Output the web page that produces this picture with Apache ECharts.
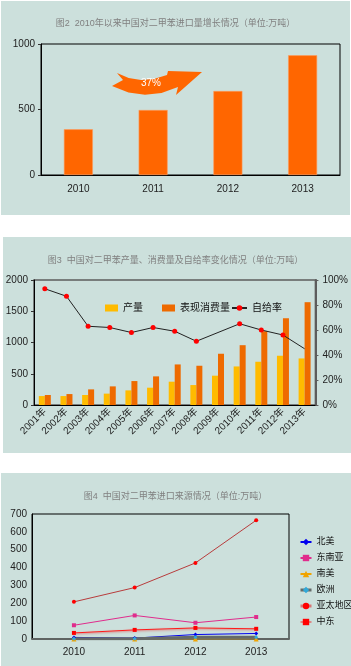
<!DOCTYPE html>
<html>

<head>
    <meta charset="utf-8">
    <script src="https://cdn.jsdelivr.net/npm/echarts@6/dist/echarts.min.js"></script>
</head>

<body>
    <div id="root"></div>
</body>
<style>
    body {
        margin: 0;
        background: #fff;
    }

    #root {
        width: 351px;
        height: 666px;
    }
</style>
<script>
    // 图2 进口量
    const importYears = ['2010', '2011', '2012', '2013']
    const importVolume = [349, 496, 641, 914]

    // 图3 产量/消费量/自给率
    const years = ['2001年', '2002年', '2003年', '2004年', '2005年', '2006年', '2007年',
        '2008年', '2009年', '2010年', '2011年', '2012年', '2013年']
    const output = [143, 143, 160, 182, 234, 277, 373, 319, 469, 617, 692, 788, 745]
    const consumption = [160, 175, 250, 298, 383, 458, 649, 628, 820, 957, 1180, 1388, 1645]
    const selfRate = [93, 87, 63, 62, 58, 62, 59, 51, null, 65, 60, 56, 45]

    // 图4 进口来源
    const srcYears = [2010, 2011, 2012, 2013]
    const northAmerica = [9, 5, 25, 31]
    const southeastAsia = [77, 132, 91, 123]
    const southAmerica = [0, 0, 0, 0]
    const europe = [2, 1, 10, 10]
    const asiaPacific = [208, 288, 426, 665]
    const middleEast = [34, 51, 62, 57]

    const font = "'Liberation Sans', 'Noto Sans CJK SC', sans-serif"
    const bg = '#cce0dc'
    const titleStyle = { fontSize: 9, color: '#808080', fontWeight: 'normal', fontFamily: font }
    const labelStyle = { fontSize: 10, color: '#222', fontFamily: font }
    const plain = v => String(v)

    const chart = echarts.init(document.getElementById('root'))

    const pair = arr => srcYears.map((y, i) => [y, arr[i]])

    function srcLine(name, data, color, symbol, size, extra) {
        return Object.assign({
            name,
            type: 'line',
            xAxisIndex: 2,
            yAxisIndex: 3,
            data: pair(data),
            symbol,
            symbolSize: size,
            itemStyle: { color },
            lineStyle: { color, width: 1 }
        }, extra || {})
    }

    // 弯箭头 (装饰)
    const arrowPoints = [[117, 73], [128.7, 78], [141, 80], [153.7, 79], [167, 75], [168, 71], [202, 72],
        [176, 95], [178, 87], [161.5, 92.9], [145, 94.7], [128.5, 92.4], [112, 86], [123, 80]]

    const option = {
        animation: false,
        textStyle: { fontFamily: font },
        graphic: [
            { type: 'rect', shape: { x: 1, y: 1, width: 349, height: 214 }, style: { fill: bg }, z: -10 },
            { type: 'rect', shape: { x: 3, y: 237, width: 348, height: 216 }, style: { fill: bg }, z: -10 },
            { type: 'rect', shape: { x: 1, y: 473, width: 350, height: 193 }, style: { fill: bg }, z: -10 },
            {
                type: 'polygon',
                shape: { points: arrowPoints },
                style: { fill: '#ff6600' },
                z: 10
            },
            {
                type: 'text',
                x: 151, y: 83,
                style: { text: '37%', fill: '#fff', fontSize: 10, fontFamily: font, align: 'center', verticalAlign: 'middle' },
                z: 11
            }
        ],
        title: [
            { text: '图2  2010年以来中国对二甲苯进口量增长情况（单位:万吨）', left: 'center', top: 14, textStyle: titleStyle },
            { text: '图3  中国对二甲苯产量、消费量及自给率变化情况（单位:万吨）', left: 'center', top: 251, textStyle: titleStyle },
            { text: '图4  中国对二甲苯进口来源情况（单位:万吨）', left: 'center', top: 487, textStyle: titleStyle }
        ],
        legend: [
            { data: ['产量'], left: 100, top: 297, icon: 'rect', itemWidth: 13, itemHeight: 7, textStyle: { fontSize: 10, color: '#111', lineHeight: 12 } },
            { data: ['表现消费量'], left: 157, top: 297, icon: 'rect', itemWidth: 13, itemHeight: 7, textStyle: { fontSize: 10, color: '#111', lineHeight: 12 } },
            { data: ['自给率'], left: 226, top: 297, itemWidth: 15, itemHeight: 7, textStyle: { fontSize: 10, color: '#111', lineHeight: 12 } },
            {
                orient: 'vertical',
                left: 294,
                top: 532,
                itemWidth: 11,
                itemHeight: 8,
                itemGap: 6,
                textStyle: { fontSize: 9, color: '#111', lineHeight: 10 },
                data: [
                    '北美', '东南亚', '南美',
                    { name: '欧洲', lineStyle: { color: '#656b69', width: 3 } },
                    { name: '亚太地区', itemStyle: { color: '#ff0000' }, lineStyle: { color: '#d87474', width: 3 } },
                    { name: '中东', itemStyle: { color: '#ff0000' }, lineStyle: { color: '#ee3030', width: 1 } }
                ]
            }
        ],
        grid: [
            { left: 41, top: 44, width: 299, height: 131, show: true, borderColor: '#000', borderWidth: 1 },
            { left: 34, top: 280, width: 287, height: 125, show: true, borderColor: '#5c5c5c', borderWidth: 1.5 },
            { left: 32, top: 514, width: 257, height: 125, show: true, borderColor: '#000', borderWidth: 1 }
        ],
        xAxis: [
            {
                type: 'category', gridIndex: 0, data: importYears,
                axisLine: { lineStyle: { color: '#000' } },
                axisTick: { inside: true, length: 4, lineStyle: { color: '#333' } },
                axisLabel: Object.assign({ margin: 9 }, labelStyle)
            },
            {
                type: 'category', gridIndex: 1, data: years,
                axisLine: { lineStyle: { color: '#000' } },
                axisTick: { inside: true, length: 5, lineStyle: { color: '#444' } },
                axisLabel: Object.assign({ margin: 5, rotate: 45, interval: 0 }, labelStyle)
            },
            {
                type: 'value', gridIndex: 2, min: 2009.31, max: 2013.54,
                axisLine: { onZero: false, lineStyle: { color: '#5f6462', width: 2 } },
                axisTick: { show: false },
                splitLine: { show: false },
                axisLabel: Object.assign({ margin: 8, customValues: srcYears, formatter: plain }, labelStyle)
            }
        ],
        yAxis: [
            {
                type: 'value', gridIndex: 0, min: 0, max: 1000, interval: 500,
                axisLine: { show: true, lineStyle: { color: '#000' } },
                axisTick: { show: true, length: 3, lineStyle: { color: '#333' } },
                splitLine: { show: false },
                axisLabel: Object.assign({ margin: 6, formatter: plain }, labelStyle)
            },
            {
                type: 'value', gridIndex: 1, min: 0, max: 2000, interval: 500,
                axisLine: { show: true, lineStyle: { color: '#000' } },
                axisTick: { show: true, length: 3, lineStyle: { color: '#333' } },
                splitLine: { show: false },
                axisLabel: Object.assign({ margin: 6, formatter: plain }, labelStyle)
            },
            {
                type: 'value', gridIndex: 1, position: 'right', min: 0, max: 100, interval: 20,
                axisLine: { show: true, lineStyle: { color: '#5c5c5c', width: 2 } },
                axisTick: { show: true, length: 3, lineStyle: { color: '#5c5c5c' } },
                splitLine: { show: false },
                axisLabel: Object.assign({ margin: 7, formatter: '{value}%' }, labelStyle)
            },
            {
                type: 'value', gridIndex: 2, min: 0, max: 700, interval: 100,
                axisLine: { show: true, lineStyle: { color: '#000' } },
                axisTick: { show: false },
                splitLine: { show: false },
                axisLabel: Object.assign({ margin: 5, formatter: plain }, labelStyle)
            }
        ],
        series: [
            {
                name: '进口量', type: 'bar', xAxisIndex: 0, yAxisIndex: 0,
                data: importVolume, barWidth: 29,
                itemStyle: { color: '#ff6600', borderColor: '#ff9a5c', borderWidth: 0.6 }
            },
            {
                name: '产量', type: 'bar', xAxisIndex: 1, yAxisIndex: 1,
                data: output, barWidth: 6, barGap: '0%',
                itemStyle: { color: '#ffbb00' }
            },
            {
                name: '表现消费量', type: 'bar', xAxisIndex: 1, yAxisIndex: 1,
                data: consumption, barWidth: 6, barGap: '0%',
                itemStyle: { color: '#ee6a00' }
            },
            {
                name: '自给率', type: 'line', xAxisIndex: 1, yAxisIndex: 2,
                data: selfRate.map((v, i) => i === selfRate.length - 1 ? { value: v, symbol: 'none' } : v),
                connectNulls: true,
                symbol: 'circle', symbolSize: 5,
                itemStyle: { color: '#ff0000' },
                lineStyle: { color: '#222', width: 1 },
                z: 5
            },
            srcLine('北美', northAmerica, '#0000ee', 'diamond', 4),
            srcLine('东南亚', southeastAsia, '#e02c8c', 'rect', 4),
            srcLine('南美', southAmerica, '#f0a400', 'triangle', 5),
            srcLine('欧洲', europe, '#30a8d8', 'diamond', 4, { lineStyle: { color: '#656b69', width: 3 } }),
            srcLine('亚太地区', asiaPacific, '#ff0000', 'circle', 4, { lineStyle: { color: '#b83c3c', width: 1 } }),
            srcLine('中东', middleEast, '#ff0000', 'rect', 4, {
                lineStyle: { color: '#ff1a1a', width: 1, shadowColor: 'rgba(225,100,100,0.9)', shadowBlur: 2, shadowOffsetY: 1 }
            })
        ]
    }

    chart.setOption(option)
</script>

</html>
